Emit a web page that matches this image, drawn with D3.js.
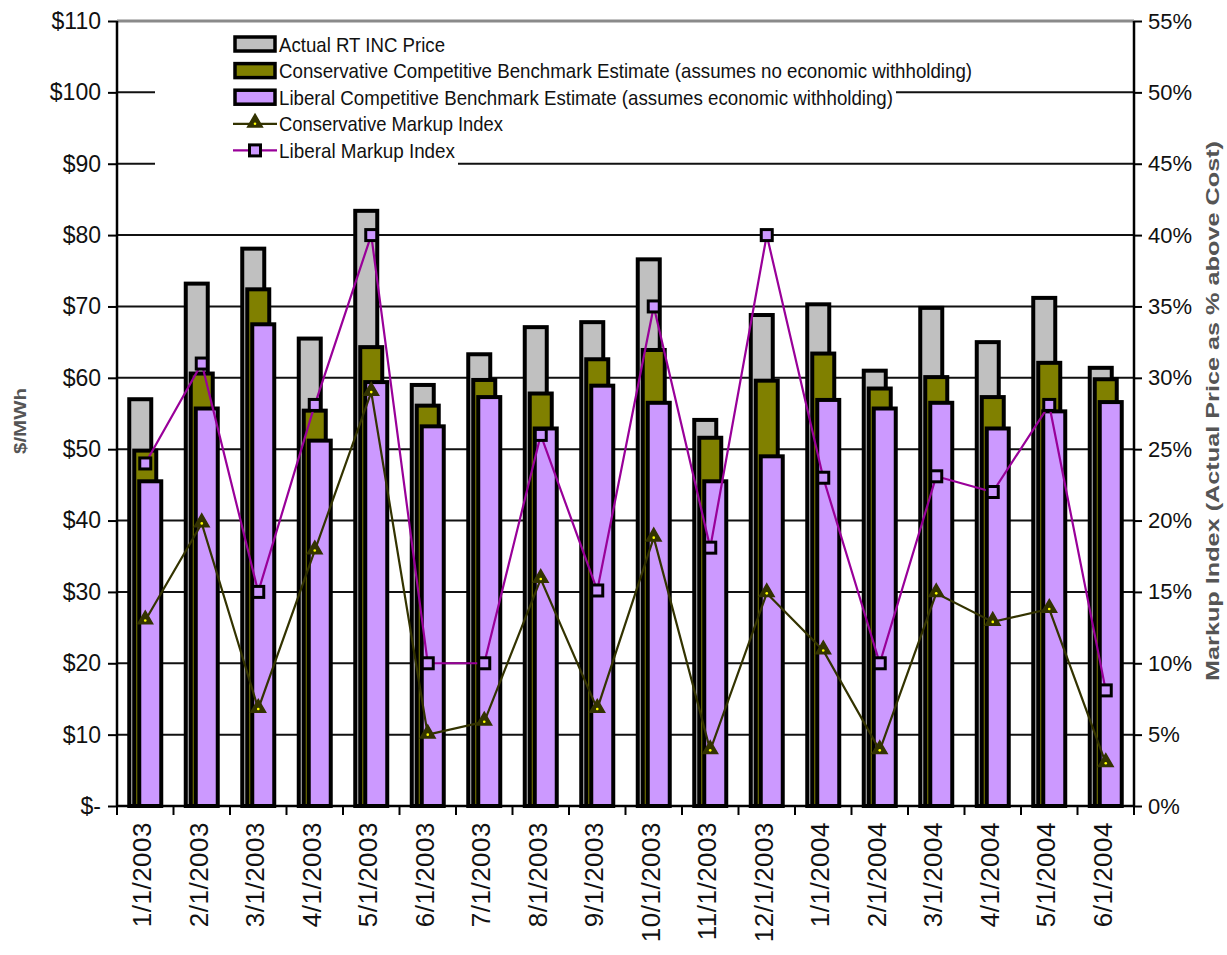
<!DOCTYPE html>
<html>
<head>
<meta charset="utf-8">
<script src="https://cdn.jsdelivr.net/npm/d3@7"></script>
<style>
  html, body { margin: 0; padding: 0; background: #fff; }
  svg { display: block; }
  text { font-family: "Liberation Sans", Arial, sans-serif; }
</style>
</head>
<body>
<svg id="chart" width="1227" height="955"></svg>
<script>
// Monthly categories
const months = ["1/1/2003","2/1/2003","3/1/2003","4/1/2003","5/1/2003","6/1/2003",
  "7/1/2003","8/1/2003","9/1/2003","10/1/2003","11/1/2003","12/1/2003",
  "1/1/2004","2/1/2004","3/1/2004","4/1/2004","5/1/2004","6/1/2004"];

// $/MWh
const actualPrice = [57, 73.2, 78.1, 65.5, 83.4, 59, 63.3, 67.1, 67.8, 76.6, 54.1, 68.8,
  70.3, 61, 69.8, 65, 71.2, 61.4];
const conservativeBenchmark = [49.8, 60.6, 72.4, 55.4, 64.3, 56.1, 59.7, 57.8, 62.6, 63.9, 51.6, 59.6,
  63.4, 58.5, 60.1, 57.3, 62.1, 59.8];
const liberalBenchmark = [45.5, 55.7, 67.5, 51.2, 59.4, 53.2, 57.3, 52.9, 58.9, 56.5, 45.5, 49,
  56.9, 55.7, 56.5, 52.9, 55.3, 56.6];

// Markup index (fraction above cost)
const conservativeMarkup = [0.13, 0.198, 0.068, 0.179, 0.29, 0.05, 0.059, 0.159, 0.068, 0.188, 0.039, 0.149,
  0.109, 0.039, 0.149, 0.129, 0.138, 0.03];
const liberalMarkup = [0.24, 0.31, 0.15, 0.281, 0.40, 0.10, 0.10, 0.26, 0.151, 0.35, 0.181, 0.40,
  0.23, 0.10, 0.231, 0.22, 0.281, 0.081];

const priceTicks = [0,10,20,30,40,50,60,70,80,90,100,110];
const pctTicks = [0,0.05,0.10,0.15,0.20,0.25,0.30,0.35,0.40,0.45,0.50,0.55];

const legendItems = [
  {label: "Actual RT INC Price", kind: "bar", fill: "#C0C0C0", len: 166},
  {label: "Conservative Competitive Benchmark Estimate (assumes no economic withholding)", kind: "bar", fill: "#808000", len: 693},
  {label: "Liberal Competitive Benchmark Estimate (assumes economic withholding)", kind: "bar", fill: "#CC99FF", len: 614},
  {label: "Conservative Markup Index", kind: "tri", len: 224},
  {label: "Liberal Markup Index", kind: "sq", len: 176}
];

const C = {
  grey: "#C0C0C0", olive: "#808000", lav: "#CC99FF",
  consLine: "#333300", libLine: "#990099"
};

const svg = d3.select("#chart");
const plotL = 117, plotR = 1134, plotT = 21, plotB = 806;

const x = d3.scaleBand().domain(months).range([plotL, plotR]);
const yL = d3.scaleLinear().domain([0, 110]).range([plotB, plotT]);
const yR = d3.scaleLinear().domain([0, 0.55]).range([plotB, plotT]);

// Horizontal gridlines
svg.append("g").selectAll("line").data(priceTicks.filter(d => d > 0 && d < 110)).join("line")
  .attr("x1", plotL).attr("x2", plotR)
  .attr("y1", d => yL(d)).attr("y2", d => yL(d))
  .attr("stroke", "#111").attr("stroke-width", 2);
// plot top border
svg.append("line").attr("x1", plotL).attr("x2", plotR).attr("y1", yL(110)).attr("y2", yL(110))
  .attr("stroke", "#8a8a8a").attr("stroke-width", 3);

// Overlapping bars
const barW = 26, sw = 4, step = 5;
const groupW = barW + 2 * step;
const series = [
  {vals: actualPrice, fill: C.grey, off: 0},
  {vals: conservativeBenchmark, fill: C.olive, off: step},
  {vals: liberalBenchmark, fill: C.lav, off: 2 * step}
];
const bars = svg.append("g");
series.forEach(s => {
  bars.append("g").selectAll("rect").data(months).join("rect")
    .attr("x", d => x(d) + (x.bandwidth() - groupW) / 2 + s.off + sw / 2)
    .attr("width", barW - sw)
    .attr("y", (d, i) => yL(s.vals[i]))
    .attr("height", (d, i) => yL(0) - yL(s.vals[i]))
    .attr("fill", s.fill).attr("stroke", "#000").attr("stroke-width", sw);
});

// Markup lines
const cx = d => x(d) + x.bandwidth() / 2;
const markLine = d3.line().x((d, i) => cx(months[i])).y(d => yR(d));
svg.append("path").datum(conservativeMarkup).attr("d", markLine)
  .attr("fill", "none").attr("stroke", C.consLine).attr("stroke-width", 2.2);
svg.append("path").datum(liberalMarkup).attr("d", markLine)
  .attr("fill", "none").attr("stroke", C.libLine).attr("stroke-width", 2.2);

const tri = d3.symbol().type(d3.symbolTriangle).size(95);
function triMarker(g, px, py) {
  g.append("path").attr("d", tri()).attr("transform", `translate(${px},${py - 1})`)
    .attr("fill", C.consLine).attr("stroke", C.consLine).attr("stroke-width", 1.5);
  g.append("circle").attr("cx", px).attr("cy", py).attr("r", 1.3).attr("fill", "#FFFF00");
}
function sqMarker(g, px, py) {
  g.append("rect").attr("x", px - 5.5).attr("y", py - 5.5).attr("width", 11).attr("height", 11)
    .attr("fill", C.lav).attr("stroke", "#000").attr("stroke-width", 3);
}
const mk = svg.append("g");
conservativeMarkup.forEach((v, i) => triMarker(mk, cx(months[i]), yR(v)));
liberalMarkup.forEach((v, i) => sqMarker(mk, cx(months[i]), yR(v)));

// Axes
const gL = svg.append("g").attr("transform", `translate(${plotL},0)`)
  .call(d3.axisLeft(yL).tickValues(priceTicks).tickSize(9).tickPadding(7)
    .tickFormat(d => d === 0 ? "$-" : "$" + d));
const gR = svg.append("g").attr("transform", `translate(${plotR},0)`)
  .call(d3.axisRight(yR).tickValues(pctTicks).tickSize(8).tickPadding(6)
    .tickFormat(d3.format(".0%")));
const gX = svg.append("g").attr("transform", `translate(0,${plotB})`)
  .call(d3.axisBottom(x).tickSize(0).tickFormat(d => d));
[gL, gR, gX].forEach(g => {
  g.select(".domain").attr("stroke", "#000").attr("stroke-width", 2.5);
  g.selectAll(".tick line").attr("stroke", "#000").attr("stroke-width", 2);
  g.selectAll("text").attr("fill", "#111")
    .style("font-family", "'Liberation Sans', Arial, sans-serif");
});
gL.selectAll("text").attr("font-size", 23);
gR.selectAll("text").attr("font-size", 22);
gL.select(".domain").attr("d", `M0,${plotB}V${plotT}`);
gR.select(".domain").attr("d", `M0,${plotB}V${plotT}`);
gX.select(".domain").attr("d", `M${plotL},0H${plotR}`);
// category boundary ticks
gX.append("g").selectAll("line").data(d3.range(months.length + 1)).join("line")
  .attr("x1", i => plotL + i * x.step()).attr("x2", i => plotL + i * x.step())
  .attr("y1", 0).attr("y2", 9).attr("stroke", "#000").attr("stroke-width", 2);
gX.selectAll(".tick text")
  .attr("font-size", 26)
  .attr("transform", "rotate(-90)")
  .attr("text-anchor", "end")
  .attr("x", -16).attr("y", -3).attr("dy", "0.35em")
  .attr("letter-spacing", 0.5);

// Axis titles
svg.append("text").attr("transform", `translate(26,421) rotate(-90)`)
  .attr("text-anchor", "middle").attr("font-size", 16).attr("font-weight", "bold")
  .attr("fill", "#555").attr("textLength", 66).attr("lengthAdjust", "spacingAndGlyphs")
  .text("$/MWh");
svg.append("text").attr("transform", `translate(1219,411) rotate(-90)`)
  .attr("text-anchor", "middle").attr("font-size", 19).attr("font-weight", "bold")
  .attr("fill", "#555").attr("textLength", 540).attr("lengthAdjust", "spacingAndGlyphs")
  .text("Markup Index (Actual Price as % above Cost)");

// Legend: each entry sits on its own white strip
const lg = svg.append("g");
legendItems.forEach((it, i) => {
  const yy = 44 + i * 26.6;
  lg.append("rect").attr("x", 155).attr("y", yy - 13.5)
    .attr("width", 279 + it.len + 3 - 155).attr("height", i === 4 ? 29 : 27)
    .attr("fill", "#fff");
});
legendItems.forEach((it, i) => {
  const yy = 44 + i * 26.6;
  if (it.kind === "bar") {
    lg.append("rect").attr("x", 235).attr("y", yy - 7).attr("width", 40).attr("height", 14)
      .attr("fill", it.fill).attr("stroke", "#000").attr("stroke-width", 3.5);
  } else if (it.kind === "tri") {
    lg.append("line").attr("x1", 233).attr("x2", 277).attr("y1", yy).attr("y2", yy)
      .attr("stroke", C.consLine).attr("stroke-width", 2.2);
    triMarker(lg, 255, yy);
  } else {
    lg.append("line").attr("x1", 233).attr("x2", 277).attr("y1", yy).attr("y2", yy)
      .attr("stroke", C.libLine).attr("stroke-width", 2.2);
    sqMarker(lg, 255, yy);
  }
  lg.append("text").attr("x", 279).attr("y", yy).attr("dy", "0.36em")
    .attr("font-size", 21).attr("fill", "#111")
    .attr("textLength", it.len).attr("lengthAdjust", "spacingAndGlyphs")
    .text(it.label);
});
</script>
</body>
</html>
